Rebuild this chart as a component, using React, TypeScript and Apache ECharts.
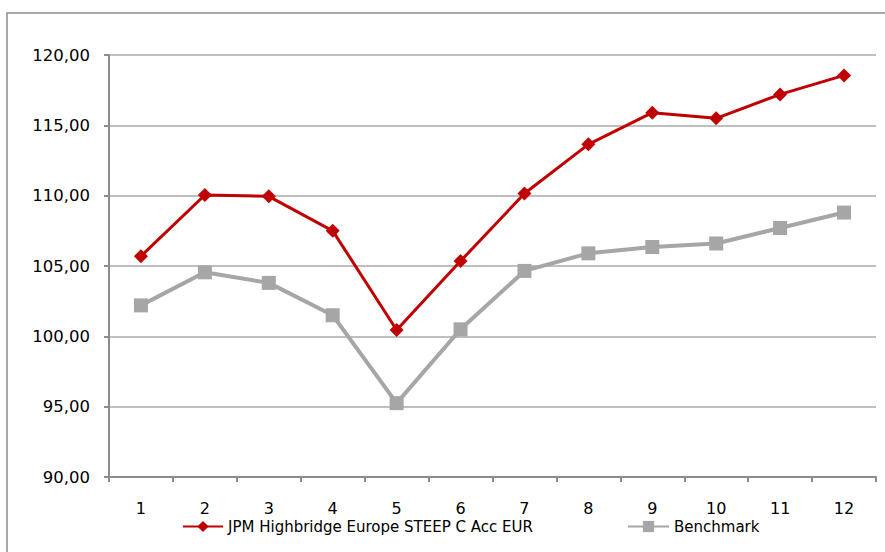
import React, { useEffect, useRef } from "react";
import * as echarts from "echarts";

const categories = ["1", "2", "3", "4", "5", "6", "7", "8", "9", "10", "11", "12"];
const fundName = "JPM Highbridge Europe STEEP C Acc EUR";
const benchName = "Benchmark";
const fundValues = [105.7, 110.05, 109.95, 107.5, 100.45, 105.35, 110.15, 113.65, 115.9, 115.5, 117.2, 118.55];
const benchValues = [102.2, 104.55, 103.8, 101.5, 95.25, 100.5, 104.65, 105.9, 106.35, 106.6, 107.7, 108.8];

const FONT = "DejaVu Sans";

export default function App() {
  const ref = useRef<HTMLDivElement>(null);
  useEffect(() => {
    if (!ref.current) return;
    const chart = echarts.init(ref.current, null, { renderer: "svg" });
    chart.setOption({
      animation: false,
      backgroundColor: "#ffffff",
      textStyle: { fontFamily: FONT },
      graphic: [
        {
          type: "rect",
          shape: { x: 7, y: 13, width: 1000, height: 700 },
          style: { fill: "none", stroke: "#8c8c8c", lineWidth: 1.5 },
          silent: true,
        },
      ],
      grid: { left: 109, right: 9, top: 55, bottom: 75 },
      legend: [
        {
          data: [fundName],
          left: 177,
          top: 514,
          itemWidth: 40,
          itemHeight: 14,
          itemGap: 0,
          textStyle: { fontFamily: FONT, fontSize: 15, color: "#000" },
        },
        {
          data: [benchName],
          left: 622,
          top: 514,
          itemWidth: 41,
          itemHeight: 14,
          itemGap: 0,
          textStyle: { fontFamily: FONT, fontSize: 15, color: "#000" },
        },
      ],
      xAxis: {
        type: "category",
        data: categories,
        boundaryGap: true,
        axisLine: { lineStyle: { color: "#8c8c8c", width: 2 } },
        axisTick: { show: true, length: 5, alignWithLabel: false, lineStyle: { color: "#8c8c8c", width: 2 } },
        axisLabel: { margin: 23, fontSize: 16, color: "#000", fontFamily: FONT },
        splitLine: { show: false },
      },
      yAxis: {
        type: "value",
        min: 90,
        max: 120,
        interval: 5,
        axisLine: { show: true, lineStyle: { color: "#8c8c8c", width: 2 } },
        axisTick: { show: true, length: 5, lineStyle: { color: "#8c8c8c", width: 2 } },
        axisLabel: {
          margin: 19,
          fontSize: 16.5,
          color: "#000",
          fontFamily: FONT,
          formatter: (v: number) => v.toFixed(2).replace(".", ","),
        },
        splitLine: { show: true, lineStyle: { color: "#bfbfbf", width: 2 } },
      },
      series: [
        {
          name: fundName,
          type: "line",
          data: fundValues,
          symbol: "diamond",
          symbolSize: 14,
          itemStyle: { color: "#c00000" },
          lineStyle: { color: "#c00000", width: 3 },
          z: 3,
        },
        {
          name: benchName,
          type: "line",
          data: benchValues,
          symbol: "rect",
          symbolSize: 14,
          itemStyle: { color: "#a6a6a6" },
          lineStyle: { color: "#a6a6a6", width: 4 },
          z: 2,
        },
      ],
    });
    return () => chart.dispose();
  }, []);
  return (
    <div
      ref={ref}
      style={{ position: "absolute", left: 0, top: 0, width: 885, height: 552 }}
    />
  );
}
